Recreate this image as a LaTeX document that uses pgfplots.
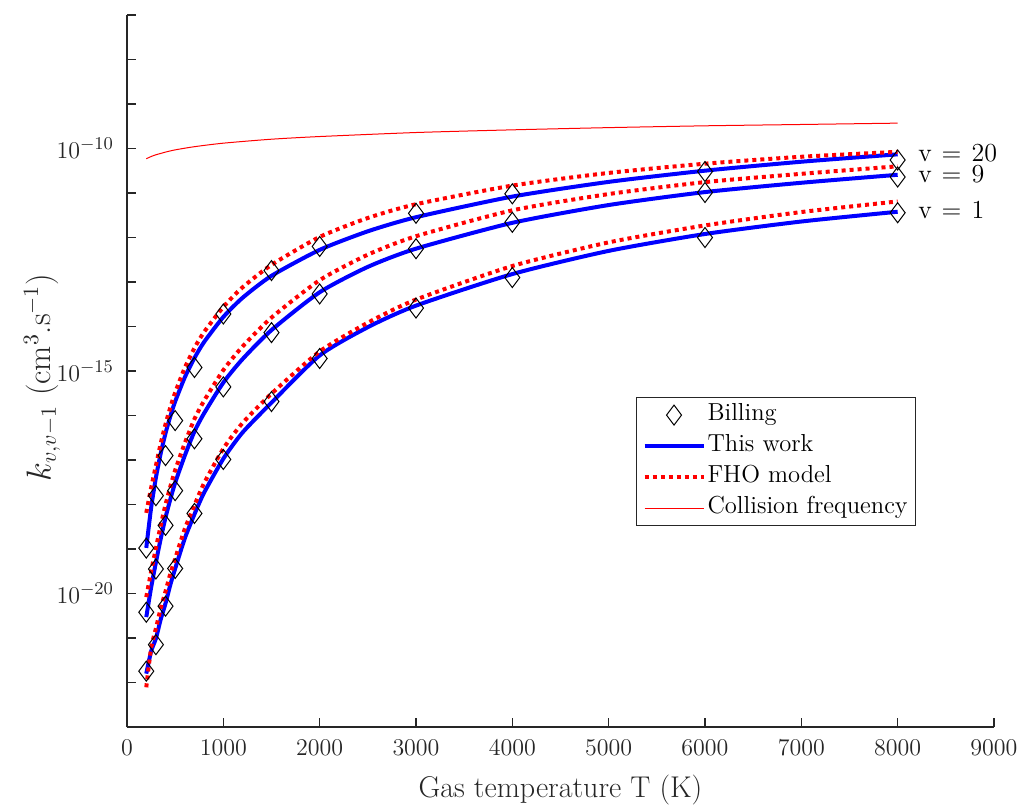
\documentclass[border=0pt]{standalone}
\usepackage{pgfplots}
\pgfplotsset{compat=1.18}
\definecolor{axgray}{rgb}{0.15,0.15,0.15}
\pgfplotsset{
  legline/.style={legend image code/.code={\draw[mark repeat=2,mark phase=2,##1] plot coordinates {(0pt,0pt) (14.75pt,0pt) (29.5pt,0pt)};}},
  billing/.style={only marks, mark=diamond, mark size=5pt, mark options={draw=black, fill=none, line width=0.5pt}},
  thiswork/.style={blue, line width=2pt, no marks, line join=round, smooth, tension=0.4},
  fho/.style={red, line width=2pt, dash pattern=on 2pt off 2pt, no marks, smooth, tension=0.4},
}
\tikzset{vlab/.style={anchor=base west, inner sep=0pt, font=\fontsize{13}{15}\selectfont, text=black}}
\newcommand{\vlabel}[1]{v\hspace{5pt}=\hspace{5pt}#1}
\begin{document}
\begin{tikzpicture}
\begin{axis}[
  scale only axis, width=433.5pt, height=356pt,
  xmin=0, xmax=9000, ymode=log, ymin=1e-23, ymax=1e-7,
  clip=false,
  axis x line*=bottom, axis y line*=left,
  axis line style={-, draw=axgray, line width=0.6pt},
  tick align=inside,
  major tick length=4.5pt, minor tick length=4.5pt,
  every tick/.style={draw=axgray, line width=0.6pt},
  xtick={0,1000,...,9000},
  scaled x ticks=false,
  tick label style={font=\fontsize{12.3}{14}\selectfont, text=axgray},
  xticklabel style={yshift=-3pt, /pgf/number format/.cd, 1000 sep={}},
  yticklabel style={xshift=-3pt},
  ytick={1e-20,1e-15,1e-10},
  minor ytick={1e-23,1e-22,1e-21,1e-19,1e-18,1e-17,1e-16,1e-14,1e-13,1e-12,1e-11,1e-9,1e-8,1e-7},
  xlabel={Gas temperature T (K)},
  ylabel={$k_{v,v-1}$ (cm$^3$.s$^{-1}$)},
  xlabel style={font=\fontsize{15}{17}\selectfont, text=axgray, at={(axis description cs:0.5,-0.0885)}, anchor=center},
  ylabel style={font=\fontsize{16.3}{18}\selectfont, text=axgray, at={(axis description cs:-0.098,0.491)}, anchor=center},
  legend style={at={(rel axis cs:0.587,0.4635)}, anchor=north west, draw=axgray, line width=0.6pt,
    font=\fontsize{12.3}{14}\selectfont, inner xsep=3pt, inner ysep=2pt, row sep=2pt,
    nodes={inner sep=1pt, text height=8.5pt, text depth=3pt}},
  legend cell align=left,
  legline,
]
% invisible frame giving the page its margins
\path (rel axis cs:-0.1465,-0.1152) rectangle (rel axis cs:1.0358,1.0211);

% Billing
\addplot[billing, legline] table {
T k
200 1.05e-19
300 1.58e-18
400 1.26e-17
500 7.7e-17
700 1.2e-15
1000 1.91e-14
1500 1.81e-13
2000 6.3e-13
3000 3.5e-12
4000 9.6e-12
6000 3.04e-11
8000 5.52e-11
};
\addlegendentry{Billing}
\addplot[forget plot, billing] table {
T k
200 3.8e-21
300 3.55e-20
400 3.4e-19
500 2.05e-18
700 3.0e-17
1000 4.4e-16
1500 7.3e-15
2000 5.4e-14
3000 5.6e-13
4000 2.2e-12
6000 1.03e-11
8000 2.29e-11
};
\addplot[forget plot, billing] table {
T k
200 1.8e-22
300 7.1e-22
400 5.2e-21
500 3.65e-20
700 6.3e-19
1000 1.03e-17
1500 2.06e-16
2000 1.91e-15
3000 2.6e-14
4000 1.26e-13
6000 1.0e-12
8000 3.6e-12
};

% This work
\addplot[thiswork] table {
T k
200 1.06e-19
250 8.34e-19
300 4.03e-18
350 1.42e-17
400 4.02e-17
450 9.66e-17
500 2.07e-16
600 7.21e-16
700 1.96e-15
800 4.48e-15
1000 1.64e-14
1200 4.43e-14
1500 1.38e-13
2000 5.28e-13
2500 1.38e-12
3000 2.86e-12
4000 8.32e-12
5000 1.78e-11
6000 3.18e-11
7000 5.05e-11
8000 7.41e-11
};
\addlegendentry{This work}
\addplot[forget plot, thiswork] table {
T k
200 2.95e-21
250 1.35e-20
300 5.01e-20
350 1.70e-19
400 5.13e-19
450 1.32e-18
500 3.09e-18
600 1.26e-17
700 4.37e-17
800 1.12e-16
1000 5.50e-16
1200 1.86e-15
1500 8.32e-15
2000 5.89e-14
2500 2.19e-13
3000 5.62e-13
4000 2.14e-12
5000 5.37e-12
6000 1.05e-11
7000 1.70e-11
8000 2.57e-11
};
\addplot[forget plot, thiswork] table {
T k
200 1.58e-22
250 5.01e-22
300 9.77e-22
350 2.63e-21
400 6.03e-21
450 1.58e-20
500 3.63e-20
600 1.74e-19
700 6.03e-19
800 1.84e-18
1000 1.07e-17
1200 4.17e-17
1500 1.95e-16
2000 2.24e-15
2500 9.66e-15
3000 2.95e-14
4000 1.51e-13
5000 5.01e-13
6000 1.20e-12
7000 2.29e-12
8000 3.80e-12
};

% FHO model
\addplot[fho] table {
T k
200 6.49e-19
250 2.34e-18
300 7.50e-18
350 2.36e-17
400 6.40e-17
450 1.53e-16
500 3.29e-16
600 1.18e-15
700 3.29e-15
800 7.52e-15
1000 2.75e-14
1200 7.62e-14
1500 2.43e-13
2000 1.03e-12
2500 2.75e-12
3000 5.60e-12
4000 1.47e-11
5000 2.83e-11
6000 4.56e-11
7000 6.53e-11
8000 8.43e-11
};
\addlegendentry{FHO model}
\addplot[forget plot, fho] table {
T k
200 8.30e-21
250 3.09e-20
300 1.04e-19
350 3.39e-19
400 1.00e-18
450 2.54e-18
500 5.90e-18
600 2.40e-17
700 8.34e-17
800 2.14e-16
1000 1.05e-15
1200 3.56e-15
1500 1.59e-14
2000 1.10e-13
2500 4.12e-13
3000 1.07e-12
4000 4.08e-12
5000 9.48e-12
6000 1.76e-11
7000 2.70e-11
8000 3.99e-11
};
\addplot[forget plot, fho] table {
T k
200 7.80e-23
250 5.89e-22
300 1.64e-21
350 4.65e-21
400 1.12e-20
450 2.80e-20
500 6.10e-20
600 2.84e-19
700 9.59e-19
800 3.01e-18
1000 1.80e-17
1200 6.81e-17
1500 3.10e-16
2000 2.75e-15
2500 1.22e-14
3000 4.03e-14
4000 2.29e-13
5000 7.78e-13
6000 1.87e-12
7000 3.74e-12
8000 6.47e-12
};

% Collision frequency
\addplot[red, line width=0.5pt, no marks, line join=round, smooth, tension=0.4] table {
T k
200 5.89e-11
250 6.61e-11
300 7.24e-11
350 7.76e-11
400 8.32e-11
500 9.33e-11
700 1.10e-10
1000 1.32e-10
1500 1.62e-10
2000 1.86e-10
3000 2.29e-10
4000 2.63e-10
5000 2.95e-10
6000 3.24e-10
7000 3.47e-10
8000 3.72e-10
};
\addlegendentry{Collision frequency}

\node[vlab] at (axis cs:8210,5.11e-11) {\vlabel{20}};
\node[vlab] at (axis cs:8210,1.75e-11) {\vlabel{9}};
\node[vlab] at (axis cs:8210,2.63e-12) {\vlabel{1}};
\end{axis}
\end{tikzpicture}
\end{document}
